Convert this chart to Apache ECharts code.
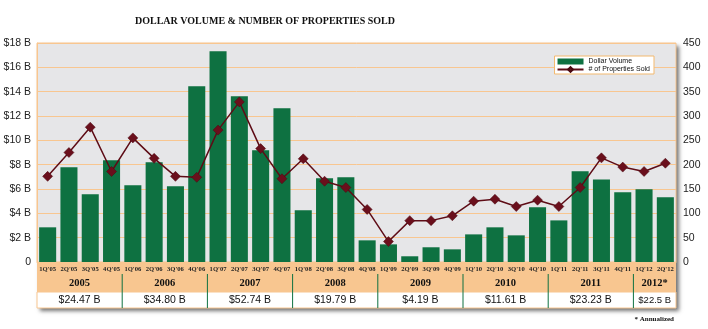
<!DOCTYPE html>
<html><head><meta charset="utf-8">
<script src="https://cdn.jsdelivr.net/npm/echarts@6/dist/echarts.min.js"></script>
<style>html,body{margin:0;padding:0;background:#fff}#c{width:708px;height:329px}</style>
</head><body><div id="c"></div>
<script>
const quarters = ["1Q'05","2Q'05","3Q'05","4Q'05","1Q'06","2Q'06","3Q'06","4Q'06","1Q'07","2Q'07","3Q'07","4Q'07","1Q'08","2Q'08","3Q'08","4Q'08","1Q'09","2Q'09","3Q'09","4Q'09","1Q'10","2Q'10","3Q'10","4Q'10","1Q'11","2Q'11","3Q'11","4Q'11","1Q'12","2Q'12"];
const dollarVolume = [2.85,7.78,5.56,8.36,6.30,8.19,6.22,14.44,17.32,13.62,9.18,12.63,4.25,6.88,6.96,1.78,1.45,0.47,1.21,1.04,2.27,2.85,2.19,4.49,3.42,7.45,6.79,5.73,5.97,5.32];
const propertiesSold = [176,225,277,186,255,213,176,174,271,329,233,171,212,166,153,108,42,85,85,95,125,129,114,127,114,153,214,195,186,203];
const years = ["2005","2006","2007","2008","2009","2010","2011","2012*"];
const yearQuarterCounts = [4,4,4,4,4,4,4,2];
const yearTotals = ["$24.47 B","$34.80 B","$52.74 B","$19.79 B","$4.19 B","$11.61 B","$23.23 B","$22.5 B"];
const leftTicks = {min:0,max:18,interval:2};
const rightTicks = {min:0,max:450,interval:50};

const chart = echarts.init(document.getElementById('c'));
const G = {left:37,right:32,top:43,bottom:67};
const orange = '#f8c690';
chart.setOption({
  animation:false,
  title:{text:'DOLLAR VOLUME & NUMBER OF PROPERTIES SOLD',left:260,top:11,textAlign:'center',
    textStyle:{fontFamily:'Liberation Serif',fontWeight:'bold',fontSize:10,color:'#111'}},
  legend:{right:54,top:56,orient:'vertical',backgroundColor:'#fff',borderColor:'#f3b96f',borderWidth:1,
    padding:[2,4,1,2],itemGap:1,itemWidth:26,itemHeight:6,
    textStyle:{fontFamily:'Liberation Sans',fontSize:7,color:'#111'},
    data:[{name:'Dollar Volume',icon:'rect'},{name:'# of Properties Sold'}]},
  grid:{...G,show:true,backgroundColor:'#e6e6e8',borderColor:orange,borderWidth:1,containLabel:false},
  xAxis:{type:'category',data:quarters,axisTick:{show:false},
    axisLine:{lineStyle:{color:orange}},
    axisLabel:{interval:0,margin:4,fontFamily:'Liberation Serif',fontWeight:'bold',fontSize:6.6,color:'#222'}},
  yAxis:[
    {type:'value',...leftTicks,position:'left',
      axisLine:{show:true,lineStyle:{color:orange}},axisTick:{show:false},
      splitLine:{lineStyle:{color:orange,width:1}},
      axisLabel:{margin:6,fontFamily:'Liberation Sans',fontSize:10.5,color:'#222',formatter:v=>v===0?'0':'$'+v+' B'}},
    {type:'value',...rightTicks,position:'right',
      axisLine:{show:false},axisTick:{show:false},splitLine:{show:false},
      axisLabel:{margin:7,fontFamily:'Liberation Sans',fontSize:10.5,color:'#222'}}
  ],
  series:[
    {name:'Dollar Volume',type:'bar',data:dollarVolume,yAxisIndex:0,barCategoryGap:'20%',
      itemStyle:{color:'#0e7141'}},
    {name:'# of Properties Sold',type:'line',data:propertiesSold,yAxisIndex:1,symbol:'diamond',symbolSize:10,
      lineStyle:{color:'#5e0c16',width:1.5},itemStyle:{color:'#6a0f1c',borderColor:'#4a0810',borderWidth:0.5},z:5}
  ]
});

function build(){
  const x0 = chart.convertToPixel({xAxisIndex:0}, 0);
  const x1 = chart.convertToPixel({xAxisIndex:0}, 1);
  const cw = x1 - x0;
  const left = x0 - cw/2;
  const right = left + cw*quarters.length;
  const yb = chart.convertToPixel({yAxisIndex:0}, 0);
  const yTop = chart.convertToPixel({yAxisIndex:0}, leftTicks.max);
  const qRowB = yb + 12, yRowB = qRowB + 18, vRowB = yRowB + 16;
  const els = [];
  els.push({type:'rect',z:-5,shape:{x:left,y:yTop,width:right-left,height:vRowB-yTop},
    style:{fill:'#fff',shadowBlur:4,shadowOffsetX:3,shadowOffsetY:3,shadowColor:'rgba(0,0,0,0.55)'}});
  els.push({type:'rect',z:-1,shape:{x:left,y:yb,width:right-left,height:yRowB-yb},style:{fill:orange}});
  els.push({type:'rect',z:-1,shape:{x:left,y:yRowB,width:right-left,height:vRowB-yRowB},style:{fill:'#fff',stroke:orange,lineWidth:1}});
  let idx = 0;
  years.forEach((y,i)=>{
    const a = left + idx*cw;
    const b = left + (idx+yearQuarterCounts[i])*cw;
    idx += yearQuarterCounts[i];
    els.push({type:'text',z:10,style:{text:y,x:(a+b)/2,y:(qRowB+yRowB)/2+0.5,align:'center',verticalAlign:'middle',
      font:'bold 10.5px "Liberation Serif"',fill:'#111'}});
    els.push({type:'text',z:10,style:{text:yearTotals[i],x:(a+b)/2,y:(yRowB+vRowB)/2,align:'center',verticalAlign:'middle',
      font:(i===7?'9.5px':'10.5px')+' "Liberation Sans"',fill:'#111'}});
    if(i < years.length-1){
      els.push({type:'line',z:10,shape:{x1:b,y1:qRowB,x2:b,y2:vRowB},style:{stroke:'#0e7141',lineWidth:1}});
    }
  });
  els.push({type:'text',z:10,style:{text:'* Annualized',x:right-2,y:vRowB+11,align:'right',verticalAlign:'middle',
    font:'bold 7px "Liberation Serif"',fill:'#111'}});
  chart.setOption({graphic:{elements:els}});
}
build();
</script></body></html>
